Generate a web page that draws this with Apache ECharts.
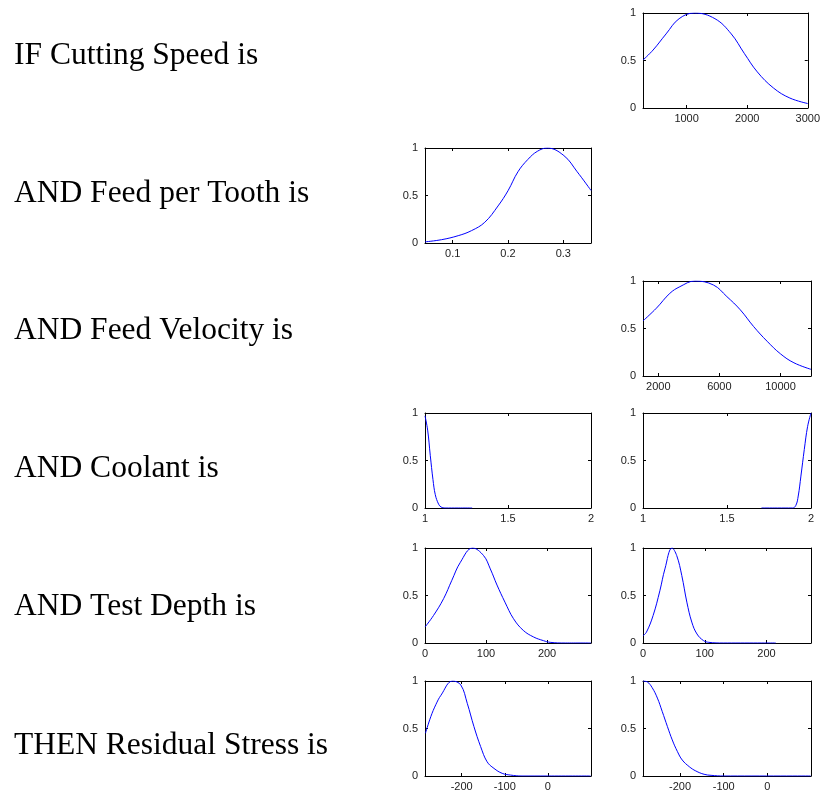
<!DOCTYPE html>
<html>
<head>
<meta charset="utf-8">
<script src="https://cdn.jsdelivr.net/npm/echarts@6/dist/echarts.min.js"></script>
<style>html,body{margin:0;padding:0;background:#fff}#c{width:823px;height:796px}</style>
</head>
<body>
<div id="c"></div>
<script>
// ---- row labels ----
const rowLabels = ["IF Cutting Speed is", "AND Feed per Tooth is", "AND Feed Velocity is",
  "AND Coolant is", "AND Test Depth is", "THEN Residual Stress is"];

// ---- axis ranges and ticks ----
const cuttingSpeedRange = [280, 3000];
const cuttingSpeedTicks = [1000, 2000, 3000];
const feedToothRange = [0.05, 0.35];
const feedToothTicks = [0.1, 0.2, 0.3];
const feedVelRange = [1000, 12000];
const feedVelTicks = [2000, 6000, 10000];
const coolantRange = [1, 2];
const coolantTicks = [1, 1.5, 2];
const depthRange = [0, 272];
const depthTicks = [0, 100, 200];
const stressRange = [-285, 100];
const stressTicks = [-200, -100, 0];

// ---- membership curves ----
const cuttingSpeedX = [280, 446, 661, 876, 1130, 1468, 1737, 1952, 2167, 2435, 2704, 3000];
const cuttingSpeedY = [0.505, 0.61, 0.78, 0.94, 1.0, 0.94, 0.78, 0.575, 0.38, 0.21, 0.105, 0.047];

const feedToothX = [0.05, 0.08, 0.11, 0.134, 0.158, 0.182, 0.2, 0.218, 0.236, 0.253, 0.271, 0.301, 0.325, 0.35];
const feedToothY = [0.012, 0.035, 0.077, 0.13, 0.218, 0.39, 0.55, 0.75, 0.88, 0.965, 1.0, 0.92, 0.75, 0.553];

const feedVelX = [1000, 1878, 2757, 3415, 4400, 5611, 6490, 7368, 8246, 9124, 10003, 10882, 12000];
const feedVelY = [0.58, 0.714, 0.87, 0.94, 1.0, 0.958, 0.836, 0.697, 0.52, 0.366, 0.233, 0.139, 0.07];

const coolantLowX = [1.0, 1.016, 1.032, 1.048, 1.062, 1.082, 1.097, 1.12, 1.2, 1.284];
const coolantLowY = [0.97, 0.82, 0.55, 0.30, 0.14, 0.04, 0.01, 0, 0, 0];

const coolantHighX = [1.705, 1.8, 1.89, 1.91, 1.924, 1.94, 1.96, 1.98, 2.0];
const coolantHighY = [0, 0, 0, 0.028, 0.126, 0.336, 0.615, 0.86, 1.0];

const depthLowX = [0, 14, 30.5, 44, 58, 78, 96, 107, 118, 131, 145, 161, 178, 194, 205, 230, 272];
const depthLowY = [0.168, 0.29, 0.467, 0.66, 0.85, 1.0, 0.92, 0.78, 0.61, 0.43, 0.256, 0.133, 0.063, 0.025, 0.007, 0, 0];

const depthHighX = [0, 5.5, 16.4, 27.3, 35.5, 47, 54.6, 62.8, 71, 79, 87.4, 98, 106.6, 130, 215];
const depthHighY = [0.077, 0.113, 0.29, 0.55, 0.78, 1.0, 0.92, 0.71, 0.43, 0.22, 0.095, 0.025, 0.007, 0, 0];

const stressLowX = [-284, -271.5, -260, -248, -221, -202, -187, -171.5, -156, -141, -125, -106, -87, -60, 0, 99];
const stressLowY = [0.45, 0.625, 0.75, 0.85, 1.0, 0.958, 0.765, 0.52, 0.31, 0.15, 0.08, 0.028, 0.01, 0, 0, 0];

const stressHighX = [-285, -275, -264, -252, -241, -229, -218, -206, -195, -179, -164, -145, -129, -100, 99];
const stressHighY = [1.0, 0.99, 0.93, 0.82, 0.68, 0.52, 0.38, 0.256, 0.168, 0.098, 0.053, 0.018, 0.007, 0, 0];

// ---- layout ----
const colL = {left: 425, width: 166};
const colR = {left: 643, width: 168};
const rowTops = [13, 148, 281, 413, 548, 681];
const rowH = 95;
const labelY = [55, 193, 330, 468, 606, 745];

const panels = [
  {col: colR, row: 0, range: cuttingSpeedRange, ticks: cuttingSpeedTicks, x: cuttingSpeedX, y: cuttingSpeedY},
  {col: colL, row: 1, range: feedToothRange, ticks: feedToothTicks, x: feedToothX, y: feedToothY},
  {col: colR, row: 2, range: feedVelRange, ticks: feedVelTicks, x: feedVelX, y: feedVelY},
  {col: colL, row: 3, range: coolantRange, ticks: coolantTicks, x: coolantLowX, y: coolantLowY},
  {col: colR, row: 3, range: coolantRange, ticks: coolantTicks, x: coolantHighX, y: coolantHighY},
  {col: colL, row: 4, range: depthRange, ticks: depthTicks, x: depthLowX, y: depthLowY},
  {col: colR, row: 4, range: depthRange, ticks: depthTicks, x: depthHighX, y: depthHighY},
  {col: colL, row: 5, range: stressRange, ticks: stressTicks, x: stressLowX, y: stressLowY},
  {col: colR, row: 5, range: stressRange, ticks: stressTicks, x: stressHighX, y: stressHighY}
];

const lineStyle = {color: '#000', width: 1};
const labelFont = {fontFamily: 'Liberation Sans, Arial, sans-serif', fontSize: 11, color: '#222'};

const grid = [], xAxis = [], yAxis = [], series = [];
panels.forEach((p, i) => {
  grid.push({left: p.col.left, top: rowTops[p.row], width: p.col.width, height: rowH, containLabel: false});
  const xBase = {
    type: 'value', gridIndex: i, min: p.range[0], max: p.range[1],
    splitLine: {show: false},
    axisLine: {show: true, onZero: false, lineStyle: lineStyle},
    axisTick: {show: true, inside: true, length: 3, lineStyle: lineStyle, customValues: p.ticks}
  };
  xAxis.push(Object.assign({}, xBase, {
    position: 'bottom',
    axisLabel: Object.assign({show: true, margin: 5, customValues: p.ticks, hideOverlap: false,
      showMinLabel: true, showMaxLabel: true, formatter: v => String(v)}, labelFont)
  }));
  xAxis.push(Object.assign({}, xBase, {position: 'top', axisLabel: {show: false}}));
  const yBase = {
    type: 'value', gridIndex: i, min: 0, max: 1, interval: 0.5,
    splitLine: {show: false},
    axisLine: {show: true, onZero: false, lineStyle: lineStyle},
    axisTick: {show: true, inside: true, length: 3, lineStyle: lineStyle}
  };
  yAxis.push(Object.assign({}, yBase, {
    position: 'left',
    axisLabel: Object.assign({show: true, margin: 7, formatter: v => String(v)}, labelFont)
  }));
  yAxis.push(Object.assign({}, yBase, {position: 'right', axisLabel: {show: false}}));
  series.push({
    type: 'line', xAxisIndex: 2 * i, yAxisIndex: 2 * i,
    data: p.x.map((v, k) => [v, p.y[k]]),
    showSymbol: false, symbol: 'none', smooth: 0.4,
    lineStyle: {color: '#0000ff', width: 1}, clip: true
  });
});

const graphic = rowLabels.map((t, i) => ({
  type: 'text', left: 14, top: labelY[i] - 15,
  style: {text: t, font: '31.5px "Liberation Serif", "Times New Roman", serif', fill: '#000'}
}));

const chart = echarts.init(document.getElementById('c'), null, {renderer: 'canvas'});
chart.setOption({animation: false, backgroundColor: '#fff', grid, xAxis, yAxis, series, graphic});
</script>
</body>
</html>
